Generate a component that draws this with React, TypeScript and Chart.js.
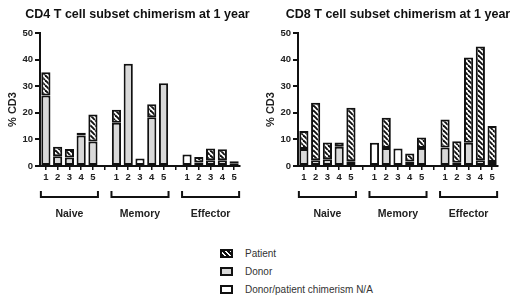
import React, { useEffect, useRef } from "react";
import { Chart, registerables } from "chart.js";

Chart.register(...registerables);

// ---------- data ----------
const categories = ["1", "2", "3", "4", "5", "", "1", "2", "3", "4", "5", "", "1", "2", "3", "4", "5"];
const groupNames = ["Naive", "Memory", "Effector"];
const groupFirst = [0, 6, 12];
const groupLast = [4, 10, 16];
const yMax = 50;
const yStep = 10;

const cd4Donor = [26.5, 3.7, 3.2, 11.5, 9.2, null, 16.3, 38.4, null, 18.3, 31.1, null, null, 1.3, 2.2, 2.2, 0.8];
const cd4Patient = [8.7, 3.5, 3.2, 1.0, 10.2, null, 4.8, 0, null, 4.9, 0, null, null, 2.1, 4.4, 4.1, 1.0];
const cd4NA = [null, null, null, null, null, null, null, null, 2.8, null, null, null, 4.3, null, null, null, null];

const cd8Donor = [6.4, 2.2, 2.5, 7.2, 1.8, null, null, 6.8, null, 1.7, 6.8, null, 7.0, 1.2, 8.7, 2.2, 1.5];
const cd8Patient = [6.8, 21.6, 6.3, 1.6, 20.1, null, null, 11.3, null, 3.0, 3.9, null, 10.5, 8.1, 32.1, 42.7, 13.5];
const cd8NA = [null, null, null, null, null, null, 8.7, null, 6.6, null, null, null, null, null, null, null, null];

const legendLabels = ["Patient", "Donor", "Donor/patient chimerism N/A"];

// ---------- styling ----------
const FONT = "'Liberation Sans', Arial, Helvetica, sans-serif";
const INK = "#111";
const DONOR_FILL = "#d9d9d9";

function makeHatch(): CanvasPattern | string {
  const s = 5;
  const c = document.createElement("canvas");
  c.width = s;
  c.height = s;
  const g = c.getContext("2d");
  if (!g) return "#888";
  g.fillStyle = "#fff";
  g.fillRect(0, 0, s, s);
  g.strokeStyle = INK;
  g.lineWidth = 1.9;
  for (const k of [-s, 0, s]) {
    g.beginPath();
    g.moveTo(k, 0);
    g.lineTo(k + s, s);
    g.stroke();
  }
  return g.createPattern(c, "repeat") || "#888";
}

const decorPlugin = {
  id: "decor",
  afterDraw(chart: any, _args: any, opts: any) {
    const ctx = chart.ctx as CanvasRenderingContext2D;
    const xs = chart.scales.x;
    const area = chart.chartArea;
    ctx.save();
    // panel title
    ctx.fillStyle = INK;
    ctx.textAlign = "center";
    ctx.textBaseline = "middle";
    ctx.font = `bold 12.5px ${FONT}`;
    ctx.fillText(opts.title || "", (area.left + area.right) / 2 + (opts.titleShift || 0), 15);
    // group brackets and names
    ctx.strokeStyle = INK;
    ctx.lineWidth = 2;
    ctx.fillStyle = "#222";
    ctx.font = `bold 10.5px ${FONT}`;
    const yb = area.bottom + 31;
    groupNames.forEach((name, i) => {
      const x0 = xs.getPixelForValue(groupFirst[i]) - 5;
      const x1 = xs.getPixelForValue(groupLast[i]) + 5;
      ctx.beginPath();
      ctx.moveTo(x0, yb - 6);
      ctx.lineTo(x0, yb);
      ctx.lineTo(x1, yb);
      ctx.lineTo(x1, yb - 6);
      ctx.stroke();
      ctx.fillText(name, (x0 + x1) / 2, area.bottom + 48);
    });
    // y-axis title
    ctx.font = `bold 11px ${FONT}`;
    ctx.translate(13, (area.top + area.bottom) / 2 + 10);
    ctx.rotate(-Math.PI / 2);
    ctx.fillText("% CD3", 0, 0);
    ctx.restore();
  },
};

type PanelProps = {
  title: string;
  donor: (number | null)[];
  patient: (number | null)[];
  na: (number | null)[];
  left: number;
  titleShift: number;
};

function Panel({ title, donor, patient, na, left, titleShift }: PanelProps) {
  const ref = useRef<HTMLCanvasElement | null>(null);
  useEffect(() => {
    if (!ref.current) return;
    const hatch = makeHatch();
    const common = {
      borderColor: INK,
      borderWidth: 2,
      borderSkipped: false as const,
      barPercentage: 0.78,
      categoryPercentage: 1,
    };
    const chart = new Chart(ref.current, {
      type: "bar",
      data: {
        labels: categories,
        datasets: [
          { label: "Donor", data: donor, backgroundColor: DONOR_FILL, ...common },
          { label: "Patient", data: patient, backgroundColor: hatch as any, ...common },
          { label: "Donor/patient chimerism N/A", data: na, backgroundColor: "#ffffff", ...common },
        ],
      },
      options: {
        animation: false,
        responsive: false,
        maintainAspectRatio: false,
        layout: { padding: { left: 0, right: 20, top: 33, bottom: 0 } },
        plugins: {
          legend: { display: false },
          tooltip: { enabled: false },
          title: { display: false },
          decor: { title, titleShift },
        },
        scales: {
          x: {
            stacked: true,
            offset: true,
            grid: {
              display: true,
              drawOnChartArea: false,
              offset: false,
              tickLength: 4,
              color: INK,
              lineWidth: 1.5,
            },
            border: { color: INK, width: 2 },
            ticks: {
              autoSkip: false,
              maxRotation: 0,
              padding: 2,
              color: "#222",
              font: { family: FONT, size: 9.5, weight: "bold" },
            },
            afterFit: (s: any) => {
              s.height = 64;
            },
          },
          y: {
            stacked: true,
            min: 0,
            max: yMax,
            grid: { drawOnChartArea: false, tickLength: 5, color: INK, lineWidth: 2 },
            border: { color: INK, width: 2 },
            ticks: {
              stepSize: yStep,
              padding: 2,
              color: "#222",
              font: { family: FONT, size: 9.5, weight: "bold" },
            },
            afterFit: (s: any) => {
              s.width = 40;
            },
          },
        },
      } as any,
      plugins: [decorPlugin],
    });
    return () => chart.destroy();
  }, [title, donor, patient, na, titleShift]);
  return (
    <canvas
      ref={ref}
      width={260}
      height={230}
      style={{ position: "absolute", left, top: 0, width: 260, height: 230 }}
    />
  );
}

function LegendIcon({ kind }: { kind: number }) {
  const bg =
    kind === 0
      ? "repeating-linear-gradient(45deg, #111 0px, #111 2px, #fff 2px, #fff 3.5px)"
      : kind === 1
      ? DONOR_FILL
      : "#fff";
  return (
    <div
      style={{
        width: 13,
        height: 9,
        boxSizing: "border-box",
        border: `2px solid ${INK}`,
        background: bg,
        marginRight: 12,
        flex: "none",
      }}
    />
  );
}

export default function App() {
  return (
    <div
      style={{
        position: "fixed",
        left: 0,
        top: 0,
        width: 520,
        height: 299,
        background: "#fff",
        overflow: "hidden",
      }}
    >
      <Panel title="CD4 T cell subset chimerism at 1 year" donor={cd4Donor} patient={cd4Patient} na={cd4NA} left={0} titleShift={-2.5} />
      <Panel title="CD8 T cell subset chimerism at 1 year" donor={cd8Donor} patient={cd8Patient} na={cd8NA} left={258} titleShift={0} />
      <div style={{ position: "absolute", left: 220, top: 244 }}>
        {legendLabels.map((lab, i) => (
          <div
            key={lab}
            style={{
              display: "flex",
              alignItems: "center",
              height: 18,
              fontFamily: FONT,
              fontSize: 10,
              color: "#333",
            }}
          >
            <LegendIcon kind={i} />
            <span>{lab}</span>
          </div>
        ))}
      </div>
    </div>
  );
}
